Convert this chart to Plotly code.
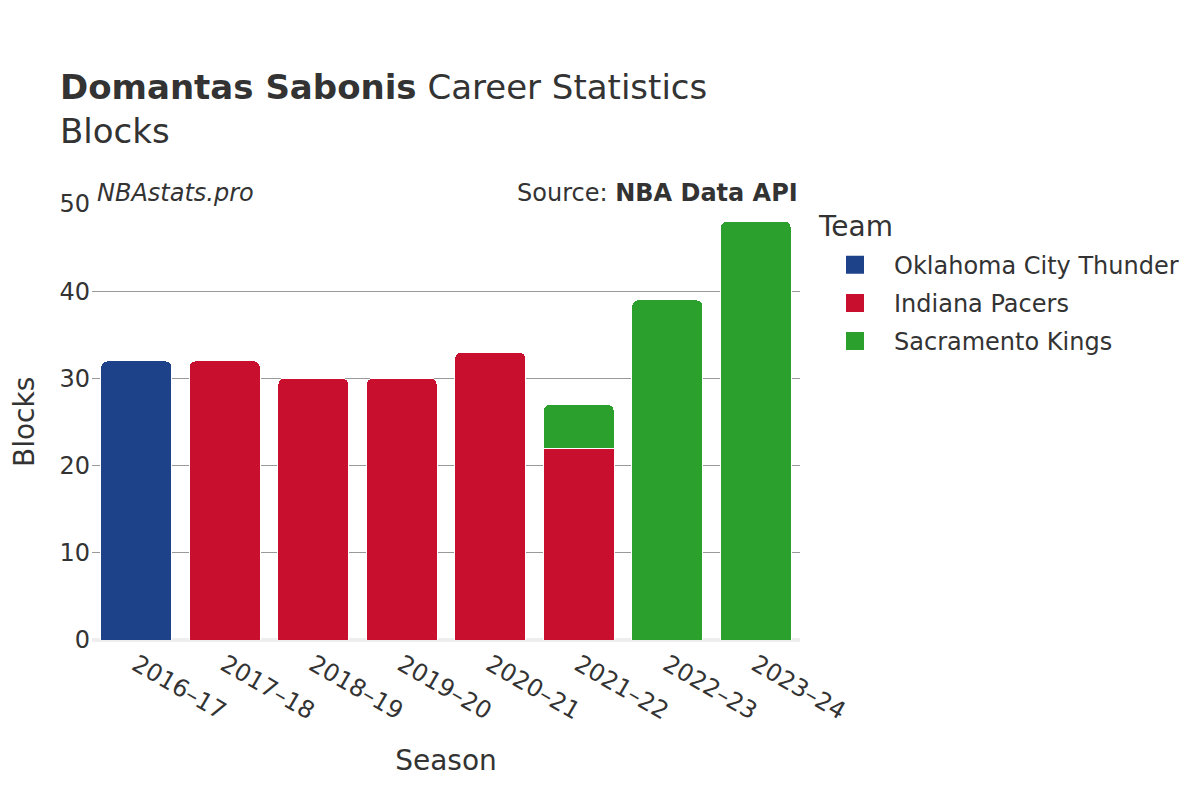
import plotly.graph_objects as go

seasons = ["2016–17", "2017–18", "2018–19", "2019–20", "2020–21", "2021–22", "2022–23", "2023–24"]
teams = ["Oklahoma City Thunder", "Indiana Pacers", "Sacramento Kings"]
okc = [32, None, None, None, None, None, None, None]
ind = [None, 32, 30, 30, 33, 22, None, None]
sac = [None, None, None, None, None, 5, 39, 48]
colors = ["#1D428A", "#C8102E", "#2CA02C"]

fig = go.Figure()
for name, vals, col in zip(teams, [okc, ind, sac], colors):
    fig.add_trace(go.Bar(
        x=seasons, y=vals, name=name, legendgroup=name, showlegend=False,
        marker=dict(color=col, line=dict(color="white", width=1)),
    ))
for name, col in zip(teams, colors):
    fig.add_trace(go.Scatter(
        x=[None], y=[None], mode="markers", name=name, legendgroup=name,
        marker=dict(symbol="square", size=21, color=col,
                    line=dict(color=col, width=2)),
    ))

FONT = "DejaVu Sans"
fig.update_layout(
    width=1200, height=800,
    barmode="stack", bargap=0.2, barcornerradius=6,
    paper_bgcolor="white", plot_bgcolor="white",
    font=dict(family=FONT, color="#333333", size=24),
    margin=dict(l=84, r=408, t=196, b=168),
    title=dict(
        text="<b>Domantas Sabonis</b> Career Statistics<br>Blocks",
        x=0.0433, xanchor="left", y=0.886, yanchor="top",
        font=dict(family=FONT, size=34, color="#333333"),
    ),
    legend=dict(
        x=1.0226, xanchor="left", y=0.9115, yanchor="top",
        font=dict(size=24), itemsizing="trace", itemwidth=68,
        traceorder="grouped", tracegroupgap=4,
    ),
    xaxis=dict(
        title=dict(text="Season", font=dict(size=28), standoff=25),
        tickangle=30, tickfont=dict(size=24), ticklabelstandoff=5,
        showgrid=False, automargin=False,
    ),
    yaxis=dict(
        range=[0, 50], dtick=10, tickfont=dict(size=24), ticklabelstandoff=1,
        showgrid=True, gridcolor="#999999", gridwidth=1,
        zeroline=True, zerolinecolor="#eeeeee", zerolinewidth=4,
        automargin=False,
    ),
    annotations=[
        dict(text="<i>NBAstats.pro</i>", xref="paper", yref="paper",
             x=0, y=1.0, xanchor="left", yanchor="bottom", showarrow=False,
             xshift=3, yshift=-5, font=dict(size=24, color="#333333")),
        dict(text="Source: <b>NBA Data API</b>", xref="paper", yref="paper",
             x=1, y=1.0, xanchor="right", yanchor="bottom", showarrow=False,
             yshift=-5, font=dict(size=24, color="#333333")),
        dict(text="Blocks", xref="paper", yref="paper", textangle=-90,
             x=0, y=0.5, xanchor="center", yanchor="middle", showarrow=False,
             xshift=-68, font=dict(size=28, color="#333333")),
        dict(text="Team", xref="paper", yref="paper",
             x=1, y=1.0, xanchor="left", yanchor="middle", showarrow=False,
             xshift=16, yshift=-22, font=dict(size=28, color="#333333")),
    ],
)
fig.write_html("out.html")
